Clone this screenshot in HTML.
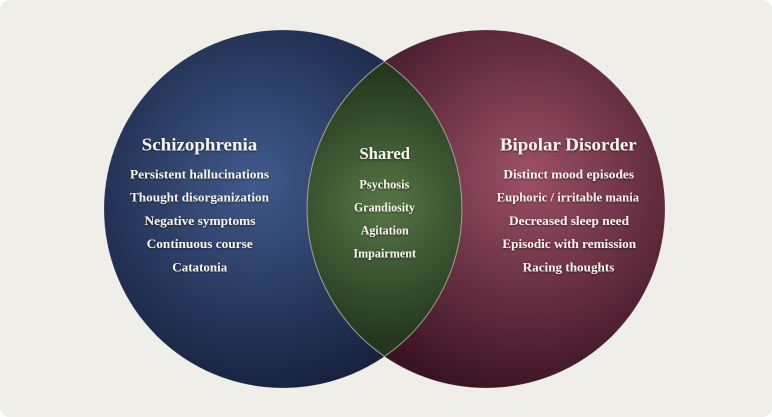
<!DOCTYPE html>
<html><head><meta charset="utf-8"><style>
html,body{margin:0;padding:0;background:#ffffff;}
.wrap{width:772px;height:417px;background:#efeee9;border-radius:10px;overflow:hidden;position:relative;}
svg{display:block;}
text{font-family:"Liberation Serif",serif;font-weight:bold;fill:#f6f2ea;}
</style></head><body>
<div class="wrap">
<svg width="772" height="417" viewBox="0 0 772 417" xmlns="http://www.w3.org/2000/svg">
<defs>
<radialGradient id="gl" gradientUnits="userSpaceOnUse" cx="255" cy="180" r="225">
<stop offset="0" stop-color="#405a8b"/><stop offset="1" stop-color="#151f3b"/>
</radialGradient>
<radialGradient id="gr" gradientUnits="userSpaceOnUse" cx="528" cy="175" r="225">
<stop offset="0" stop-color="#9c5067"/><stop offset="1" stop-color="#381322"/>
</radialGradient>
<radialGradient id="gg" gradientUnits="userSpaceOnUse" cx="384" cy="205" r="135">
<stop offset="0" stop-color="#567646"/><stop offset="1" stop-color="#24371e"/>
</radialGradient>
<filter id="ts" x="-10%" y="-30%" width="120%" height="160%">
<feDropShadow dx="0" dy="1" stdDeviation="1" flood-color="#000" flood-opacity="0.55"/>
</filter>
</defs>
<circle cx="283" cy="209" r="179" fill="url(#gl)" stroke="rgba(255,255,255,0.12)" stroke-width="1"/>
<circle cx="486" cy="209" r="179" fill="url(#gr)" stroke="rgba(255,255,255,0.12)" stroke-width="1"/>
<path d="M384.5 61.6 A179 179 0 0 1 384.5 356.4 A179 179 0 0 1 384.5 61.6 Z" fill="url(#gg)" stroke="#a9a899" stroke-width="1.1" stroke-opacity="0.85"/>
<g filter="url(#ts)" text-anchor="middle">
<text x="199.5" y="150.7" font-size="18" textLength="115.6" lengthAdjust="spacingAndGlyphs">Schizophrenia</text>
<text x="199.5" y="178.3" font-size="13" textLength="139" lengthAdjust="spacingAndGlyphs">Persistent hallucinations</text>
<text x="199.5" y="201.5" font-size="13" textLength="139" lengthAdjust="spacingAndGlyphs">Thought disorganization</text>
<text x="200" y="224.8" font-size="13" textLength="111" lengthAdjust="spacingAndGlyphs">Negative symptoms</text>
<text x="199.7" y="248.2" font-size="13" textLength="106" lengthAdjust="spacingAndGlyphs">Continuous course</text>
<text x="199.8" y="271.4" font-size="13" textLength="55" lengthAdjust="spacingAndGlyphs">Catatonia</text>

<text x="384.7" y="159" font-size="17" textLength="50.7" lengthAdjust="spacingAndGlyphs">Shared</text>
<text x="384.3" y="188.3" font-size="12.5" textLength="50" lengthAdjust="spacingAndGlyphs">Psychosis</text>
<text x="384.5" y="211.3" font-size="12.5" textLength="61" lengthAdjust="spacingAndGlyphs">Grandiosity</text>
<text x="384.7" y="234.4" font-size="12.5" textLength="48" lengthAdjust="spacingAndGlyphs">Agitation</text>
<text x="384.7" y="257.5" font-size="12.5" textLength="62.7" lengthAdjust="spacingAndGlyphs">Impairment</text>

<text x="568.3" y="150.7" font-size="18" textLength="136.7" lengthAdjust="spacingAndGlyphs">Bipolar Disorder</text>
<text x="568.7" y="178.5" font-size="13" textLength="130.7" lengthAdjust="spacingAndGlyphs">Distinct mood episodes</text>
<text x="567.9" y="201.5" font-size="13" textLength="142.3" lengthAdjust="spacingAndGlyphs">Euphoric / irritable mania</text>
<text x="569" y="224.8" font-size="13" textLength="120" lengthAdjust="spacingAndGlyphs">Decreased sleep need</text>
<text x="569.2" y="248.2" font-size="13" textLength="133.7" lengthAdjust="spacingAndGlyphs">Episodic with remission</text>
<text x="568.5" y="271.4" font-size="13" textLength="91.7" lengthAdjust="spacingAndGlyphs">Racing thoughts</text>
</g>
</svg>
</div>
</body></html>
